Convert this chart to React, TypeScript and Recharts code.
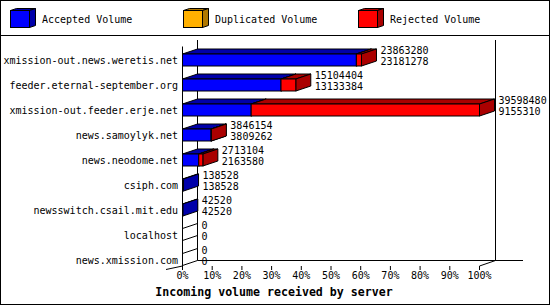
import { BarChart, Bar, XAxis, YAxis, LabelList } from "recharts";

const servers = [
  "xmission-out.news.weretis.net",
  "feeder.eternal-september.org",
  "xmission-out.feeder.erje.net",
  "news.samoylyk.net",
  "news.neodome.net",
  "csiph.com",
  "newsswitch.csail.mit.edu",
  "localhost",
  "news.xmission.com",
];
const totalVolume = [23863280, 15104404, 39598480, 3846154, 2713104, 138528, 42520, 0, 0];
const acceptedVolume = [23181278, 13133384, 9155310, 3809262, 2163580, 138528, 42520, 0, 0];
const duplicatedVolume = [0, 0, 0, 0, 0, 0, 0, 0, 0];
const rejectedVolume = [682002, 1971020, 30443170, 36892, 549524, 0, 0, 0, 0];
const percentTicks = [0, 10, 20, 30, 40, 50, 60, 70, 80, 90, 100];

const MAX_VOLUME = Math.max(...totalVolume);
const FONT = "'DejaVu Sans Mono', 'Liberation Mono', monospace";
const DX = 15;
const DY = 5;
const BAR_SIZE = 12;
const TICK_GAP = 4.5;

const SERIES = [
  { key: "accepted", name: "Accepted Volume", front: "#0000ff", side: "#0000aa" },
  { key: "duplicated", name: "Duplicated Volume", front: "#ffb000", side: "#b07800" },
  { key: "rejected", name: "Rejected Volume", front: "#ff0000", side: "#aa0000" },
];

const rows = servers.map((name, i) => ({
  name,
  accepted: acceptedVolume[i],
  duplicated: duplicatedVolume[i],
  rejected: rejectedVolume[i],
  total: totalVolume[i],
}));

// 3D box: front face, top face and right face
function make3dBar(front: string, side: string) {
  return (props: any) => {
    const { x, y, width, height } = props;
    if (!(width > 0.01)) return <g />;
    const r = x + width;
    return (
      <g stroke="#000" strokeWidth={1}>
        <polygon points={`${x},${y} ${x + DX},${y - DY} ${r + DX},${y - DY} ${r},${y}`} fill={side} />
        <polygon points={`${r},${y} ${r + DX},${y - DY} ${r + DX},${y + height - DY} ${r},${y + height}`} fill={side} />
        <rect x={x} y={y} width={width} height={height} fill={front} />
      </g>
    );
  };
}

function ValueLabel(props: any) {
  const { x, y, width, index } = props;
  const tx = Number(x) + (Number(width) || 0) + DX + 4;
  const ny = Number(y);
  return (
    <g fontFamily={FONT} fontSize={10} fill="#000">
      <text x={tx} y={ny - 0.5}>{totalVolume[index]}</text>
      <text x={tx} y={ny + 11}>{acceptedVolume[index]}</text>
    </g>
  );
}

// category label; empty servers also get the edges of a flat box on the zero line
function ServerTick(props: any) {
  const { x, y, payload } = props;
  const idx = servers.indexOf(payload.value);
  const x0 = x + TICK_GAP;
  const top = y - BAR_SIZE / 2;
  return (
    <g>
      {totalVolume[idx] === 0 && (
        <g stroke="#000" fill="none">
          <line x1={x0} y1={top} x2={x0 + DX} y2={top - DY} />
          <line x1={x0} y1={top + BAR_SIZE} x2={x0 + DX} y2={top + BAR_SIZE - DY} />
        </g>
      )}
      <text x={x} y={y + 4.5} textAnchor="end" fontFamily={FONT} fontSize={10} fill="#000">
        {payload.value}
      </text>
    </g>
  );
}

function PercentTick(props: any) {
  const { x, payload } = props;
  const pct = Math.round((payload.value / MAX_VOLUME) * 100);
  return (
    <g>
      <line x1={x} x2={x} y1={266} y2={270} stroke="#000" />
      <text x={x} y={279} textAnchor="middle" fontFamily={FONT} fontSize={10} fill="#000">
        {pct}%
      </text>
    </g>
  );
}

function Backdrop() {
  return (
    <svg width={550} height={305} style={{ position: "absolute", left: 0, top: 0 }}>
      <rect x={0.5} y={0.5} width={549} height={304} fill="#fff" stroke="#000" />
      <line x1={0} x2={550} y1={35.5} y2={35.5} stroke="#000" />
      {SERIES.map((s, i) => {
        const bx = [10.5, 183.5, 358.5][i];
        const by = 10.5;
        const w = 19;
        const h = 17;
        return (
          <g key={s.key}>
            <polygon points={`${bx},${by} ${bx + 6},${by - 2} ${bx + w + 6},${by - 2} ${bx + w},${by}`} fill={s.side} stroke="#000" />
            <polygon points={`${bx + w},${by} ${bx + w + 6},${by - 2} ${bx + w + 6},${by + h - 2} ${bx + w},${by + h}`} fill={s.side} stroke="#000" />
            <rect x={bx} y={by} width={w} height={h} fill={s.front} stroke="#000" />
            <text x={bx + 31.5} y={23} fontFamily={FONT} fontSize={10} fill="#000">
              {s.name}
            </text>
          </g>
        );
      })}
      {/* walls and floor */}
      <g stroke="#000" fill="none">
        <line x1={197.5} x2={197.5} y1={40} y2={260.5} />
        <line x1={495.5} x2={495.5} y1={40} y2={260.5} />
        <line x1={197.5} x2={523} y1={260.5} y2={260.5} />
        <line x1={182.5} x2={182.5} y1={46.5} y2={266} />
        <line x1={479.5} x2={495.5} y1={266} y2={260.5} />
        <line x1={166} x2={182.5} y1={269.5} y2={266} />
      </g>
      <text x={274} y={295.5} textAnchor="middle" fontFamily={FONT} fontSize={11.6} fontWeight="bold" fill="#000">
        Incoming volume received by server
      </text>
    </svg>
  );
}

export default function App() {
  return (
    <div style={{ position: "absolute", left: 0, top: 0, width: 550, height: 305 }}>
      <Backdrop />
      <div style={{ position: "absolute", left: 0, top: 0 }}>
        <BarChart
          width={550}
          height={305}
          data={rows}
          layout="vertical"
          barSize={BAR_SIZE}
          margin={{ top: 47, right: 70.5, bottom: 0, left: 0.5 }}
        >
          <XAxis
            type="number"
            domain={[0, MAX_VOLUME]}
            ticks={percentTicks.map((p) => (p / 100) * MAX_VOLUME)}
            height={33}
            axisLine={false}
            tickLine={false}
            tick={<PercentTick />}
            interval={0}
          />
          <YAxis
            type="category"
            dataKey="name"
            width={182}
            axisLine={false}
            tickLine={false}
            tickSize={0}
            tickMargin={TICK_GAP}
            tick={<ServerTick />}
            interval={0}
          />
          {SERIES.map((s, i) => (
            <Bar
              key={s.key}
              dataKey={s.key}
              stackId="v"
              fill={s.front}
              isAnimationActive={false}
              shape={make3dBar(s.front, s.side)}
            >
              {i === SERIES.length - 1 && <LabelList content={<ValueLabel />} />}
            </Bar>
          ))}
        </BarChart>
      </div>
    </div>
  );
}
